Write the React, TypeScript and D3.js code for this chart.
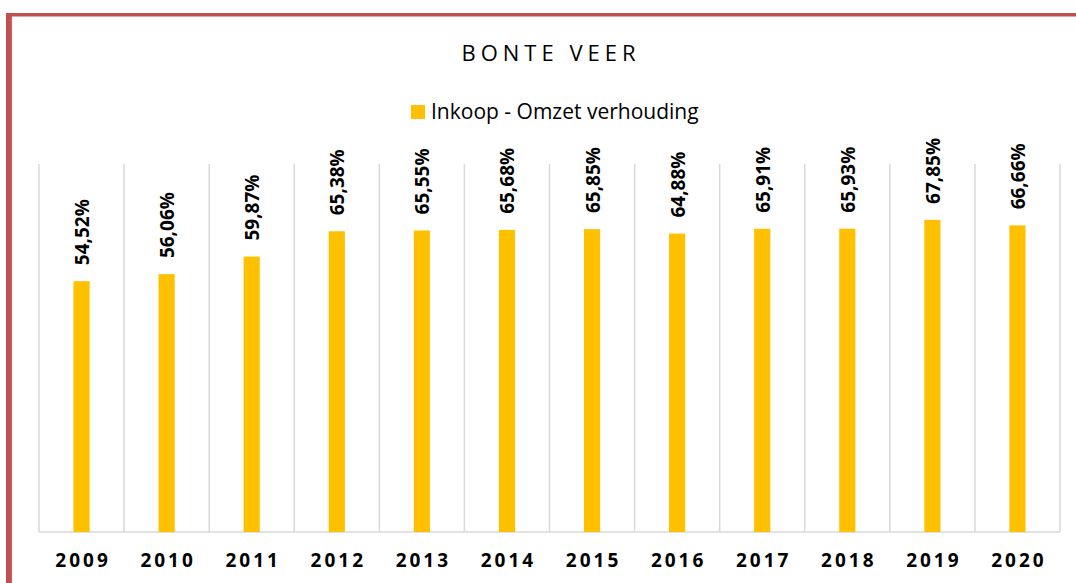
import React from "react";
import * as d3 from "d3";

const years = ["2009", "2010", "2011", "2012", "2013", "2014", "2015", "2016", "2017", "2018", "2019", "2020"];
const ratios = [54.52, 56.06, 59.87, 65.38, 65.55, 65.68, 65.85, 64.88, 65.91, 65.93, 67.85, 66.66];
const seriesName = "Inkoop - Omzet verhouding";
const title = "BONTE VEER";

const W = 1076;
const H = 583;
const plot = { left: 39, right: 1060, top: 164, bottom: 532 };
const FONT = "'Open Sans', 'Noto Sans', sans-serif";

export default function App() {
  const x = d3.scaleBand<string>().domain(years).range([plot.left, plot.right]).padding(0);
  const y = d3.scaleLinear().domain([0, 80]).range([plot.bottom, plot.top]);
  const barW = x.bandwidth() * 0.19;
  const boundaries = years.map((yr) => x(yr) as number).concat([plot.right]);
  const fmt = (v: number) => v.toFixed(2).replace(".", ",") + "%";

  return (
    <svg
      width={W}
      height={H}
      style={{ position: "absolute", left: 0, top: 0, display: "block", background: "#fff" }}
    >
      <rect x={0} y={0} width={W} height={H} fill="#fff" />
      {/* border */}
      <line x1={9} y1={13} x2={9} y2={H} stroke="#C0504D" strokeWidth={6} />
      <line x1={6} y1={14.8} x2={W} y2={14.8} stroke="#C0504D" strokeWidth={3.6} />
      <line x1={11.3} y1={16} x2={11.3} y2={H} stroke="#D46A6A" strokeWidth={1.5} opacity={0.6} />

      {/* title */}
      <text x={551} y={61} textAnchor="middle" fontFamily={FONT} fontSize={22} letterSpacing={5} fill="#000">
        {title}
      </text>

      {/* legend */}
      <rect x={411} y={105} width={14} height={14} fill="#FFC000" />
      <text x={431} y={119} fontFamily={FONT} fontSize={21} fill="#000">
        {seriesName}
      </text>

      {/* gridlines */}
      {boundaries.map((bx, i) => (
        <line key={"g" + i} x1={bx} x2={bx} y1={plot.top} y2={plot.bottom} stroke="#D9D9D9" strokeWidth={1.5} />
      ))}
      <line x1={plot.left} x2={plot.right} y1={plot.bottom} y2={plot.bottom} stroke="#D9D9D9" strokeWidth={1.5} />

      {/* bars */}
      {years.map((yr, i) => {
        const cx = (x(yr) as number) + x.bandwidth() / 2;
        return (
          <rect
            key={"b" + yr}
            x={cx - barW / 2}
            y={y(ratios[i])}
            width={barW}
            height={plot.bottom - y(ratios[i])}
            fill="#FFC000"
          />
        );
      })}

      {/* data labels */}
      {years.map((yr, i) => {
        const cx = (x(yr) as number) + x.bandwidth() / 2;
        const ty = y(ratios[i]) - 16;
        return (
          <text
            key={"l" + yr}
            transform={`translate(${cx + 7.5},${ty}) rotate(-90)`}
            fontFamily={FONT}
            fontSize={19}
            fontWeight="bold"
            fill="#000"
          >
            {fmt(ratios[i])}
          </text>
        );
      })}

      {/* x labels */}
      {years.map((yr) => {
        const cx = (x(yr) as number) + x.bandwidth() / 2;
        return (
          <text
            key={"x" + yr}
            x={cx + 1.5}
            y={567}
            textAnchor="middle"
            fontFamily={FONT}
            fontSize={19}
            fontWeight="bold"
            letterSpacing={3}
            fill="#000"
          >
            {yr}
          </text>
        );
      })}
    </svg>
  );
}
